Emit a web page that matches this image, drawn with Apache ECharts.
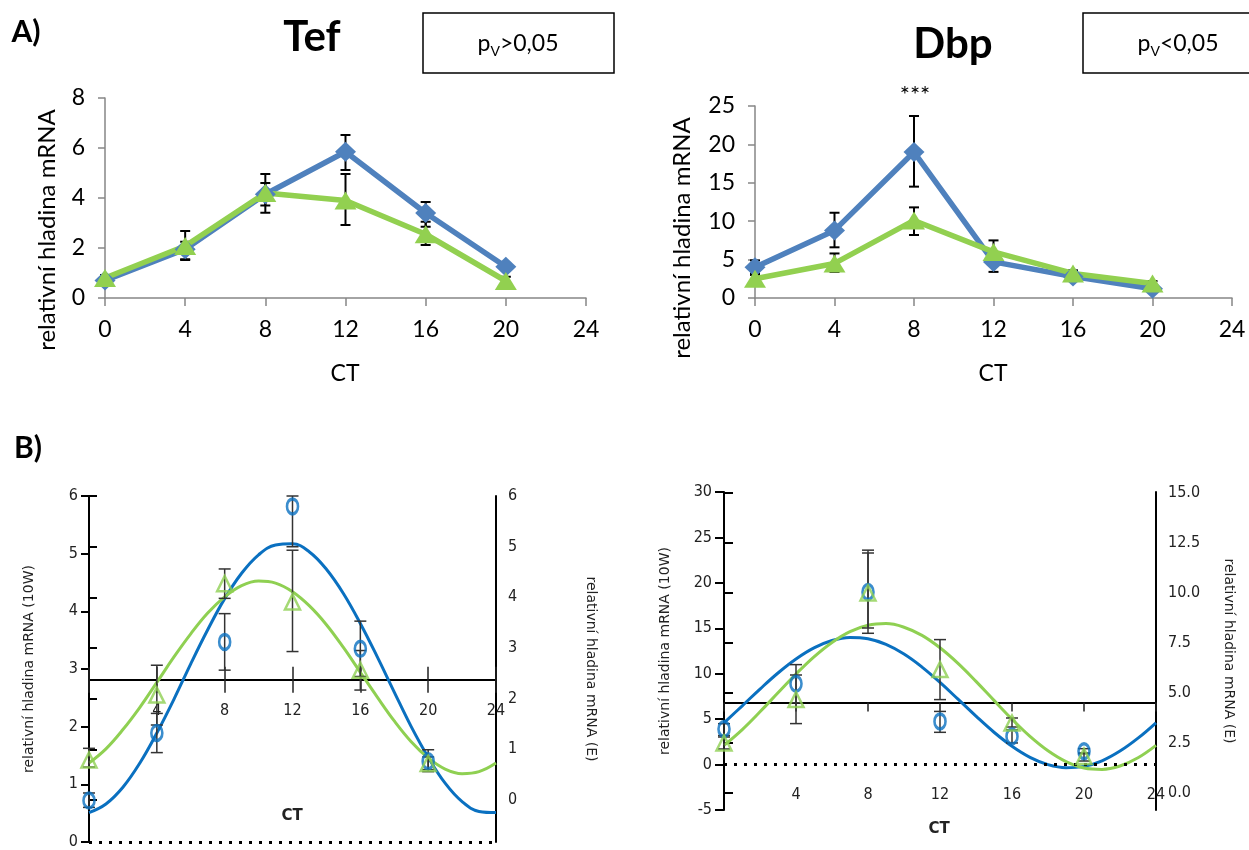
<!DOCTYPE html>
<html>
<head>
<meta charset="utf-8">
<script src="https://cdn.jsdelivr.net/npm/echarts@6/dist/echarts.min.js"></script>
<style>
html,body{margin:0;padding:0;background:#fff;}
#main{width:1249px;height:850px;}
</style>
</head>
<body>
<div id="main"></div>
<script>
// casy odberu (CT) a body prolozene krivky
var ctHours = [0, 4, 8, 12, 16, 20];
var fitHours = [0, 1, 2, 3, 4, 5, 6, 7, 8, 9, 10, 11, 12, 13, 14, 15, 16, 17, 18, 19, 20, 21, 22, 23, 24];

// A) Tef
var tefBlue = [0.7, 1.95, 4.15, 5.85, 3.4, 1.25];
var tefBlueLo = [0.62, 1.55, 3.7, 5.12, 2.85, 1.1];
var tefBlueHi = [0.8, 2.25, 4.6, 6.52, 3.84, 1.35];
var tefGreen = [0.8, 2.08, 4.2, 3.9, 2.55, 0.68];
var tefGreenLo = [0.7, 1.52, 3.41, 2.92, 2.12, 0.6];
var tefGreenHi = [0.92, 2.68, 4.96, 4.96, 3.05, 0.85];

// A) Dbp
var dbpBlue = [4.0, 8.8, 19.0, 4.7, 2.8, 1.2];
var dbpBlueLo = [3.2, 6.6, 14.5, 3.4, 2.4, 1.0];
var dbpBlueHi = [4.9, 11.1, 23.7, 5.9, 3.2, 1.4];
var dbpGreen = [2.5, 4.5, 10.1, 6.0, 3.2, 1.9];
var dbpGreenLo = [2.0, 3.4, 8.2, 4.5, 2.9, 1.6];
var dbpGreenHi = [3.0, 5.8, 11.8, 7.5, 3.6, 2.2];

// B) Tef - 10W (leva osa), E (prava osa)
var b1Blue = [0.72, 1.89, 3.47, 5.82, 3.35, 1.40];
var b1BlueLo = [0.6, 1.55, 2.98, 5.12, 2.87, 1.22];
var b1BlueHi = [0.85, 2.23, 3.96, 6.0, 3.83, 1.60];
var b1Green = [0.79, 2.07, 4.27, 3.91, 2.56, 0.72];
var b1GreenLo = [0.65, 1.48, 3.98, 2.93, 2.17, 0.6];
var b1GreenHi = [1.02, 2.66, 4.56, 4.93, 2.95, 0.85];
var b1BlueFit = [0.51, 0.66, 0.95, 1.37, 1.89, 2.47, 3.09, 3.68, 4.22, 4.66, 4.98, 5.15, 5.17,
	5.03, 4.73, 4.31, 3.79, 3.21, 2.60, 2.00, 1.47, 1.02, 0.70, 0.53, 0.51];
var b1GreenFit = [0.73, 1.01, 1.39, 1.83, 2.32, 2.82, 3.28, 3.69, 4.01, 4.23, 4.32, 4.28, 4.11,
	3.83, 3.46, 3.01, 2.52, 2.03, 1.56, 1.15, 0.83, 0.61, 0.52, 0.56, 0.73];
var b1Mesor = 2.84;

// B) Dbp
var b2Blue = [3.92, 8.9, 19.0, 4.75, 3.1, 1.46];
var b2BlueLo = [3.2, 6.8, 14.45, 3.55, 2.38, 1.2];
var b2BlueHi = [4.5, 11.0, 23.6, 5.85, 3.84, 1.75];
var b2Green = [2.5, 4.67, 10.0, 6.17, 3.5, 1.83];
var b2GreenLo = [2.2, 3.47, 8.25, 4.67, 3.3, 1.6];
var b2GreenHi = [2.8, 5.9, 12.0, 7.67, 3.75, 2.0];
var b2BlueFit = [4.60, 6.44, 8.31, 10.08, 11.62, 12.84, 13.65, 13.99, 13.84, 13.22, 12.16, 10.73, 9.04,
	7.20, 5.33, 3.56, 2.02, 0.80, -0.01, -0.35, -0.20, 0.42, 1.49, 2.91, 4.60];
var b2GreenFit = [2.38, 3.16, 4.06, 5.01, 5.95, 6.81, 7.53, 8.07, 8.39, 8.47, 8.29, 7.88, 7.26,
	6.48, 5.58, 4.63, 3.69, 2.83, 2.11, 1.57, 1.25, 1.18, 1.35, 1.76, 2.38];
var b2Mesor = 6.84;

var FA = 'Lato, "Open Sans", sans-serif';
var FN = '"Liberation Sans Narrow", "DejaVu Sans Condensed", "Liberation Sans", sans-serif';
var FL = '"DejaVu Sans", sans-serif';
var blueA = '#4f81bd', greenA = '#92d050', blueB = '#0a70c0', greenB = '#8fd052';
var grayA = '#868686';

var chart = echarts.init(document.getElementById('main'));

function pairs(xs, ys){
	return xs.map(function(x, i){ return [x, ys[i]]; });
}
function triples(xs, lo, hi){
	return xs.map(function(x, i){ return [x, lo[i], hi[i]]; });
}
//chybove useky
function errBar(cap, color, w){
	return function(params, api){
		var x = api.value(0);
		var a = api.coord([x, api.value(1)]);
		var b = api.coord([x, api.value(2)]);
		var st = {stroke: color, lineWidth: w, fill: null};
		return {type: 'group', children: [
			{type: 'line', shape: {x1: a[0], y1: a[1], x2: b[0], y2: b[1]}, style: st},
			{type: 'line', shape: {x1: a[0]-cap, y1: a[1], x2: a[0]+cap, y2: a[1]}, style: st},
			{type: 'line', shape: {x1: b[0]-cap, y1: b[1], x2: b[0]+cap, y2: b[1]}, style: st}
		]};
	};
}
function errSeries(xi, yi, lo, hi, cap, color, w, z){
	return {type: 'custom', xAxisIndex: xi, yAxisIndex: yi, silent: true, z: z,
		renderItem: errBar(cap, color, w), encode: {x: 0, y: [1, 2]},
		data: triples(ctHours, lo, hi)};
}

// rozmisteni
var A1 = {left: 105, top: 98, width: 481, height: 200};
var A2 = {left: 755, top: 106, width: 477, height: 192};
var B1 = {left: 89, top: 496, width: 407, height: 349};
var B1E = {left: 89, top: 496, width: 407, height: 304};
var B2 = {left: 724, top: 492, width: 432, height: 318};
var B2E = {left: 724, top: 493, width: 432, height: 300};
var b1Min = 0, b1Max = 6, b2Min = -5, b2Max = 30;
var B1M = {left: B1.left, top: B1.top, width: B1.width, height: B1.height*(b1Max-b1Mesor)/(b1Max-b1Min)};
var B2M = {left: B2.left, top: B2.top, width: B2.width, height: B2.height*(b2Max-b2Mesor)/(b2Max-b2Min)};

function aX(g){
	return {gridIndex: g, type: 'value', min: 0, max: 24, interval: 4,
		axisLine: {lineStyle: {color: grayA, width: 1.5}},
		axisTick: {length: 8, lineStyle: {color: grayA, width: 1.5}},
		axisLabel: {color: '#000', fontSize: 23, fontFamily: FA, margin: 20},
		splitLine: {show: false}};
}
function aY(g, max, step){
	return {gridIndex: g, type: 'value', min: 0, max: max, interval: step,
		axisLine: {show: true, lineStyle: {color: grayA, width: 1.5}},
		axisTick: {show: true, length: 7, lineStyle: {color: grayA, width: 1.5}},
		axisLabel: {color: '#000', fontSize: 23, fontFamily: FA, margin: 20},
		splitLine: {show: false}};
}
function hiddenX(g){
	return {gridIndex: g, type: 'value', min: 0, max: 24, show: false};
}
function noZero(v){ return v === 0 ? '' : String(v); }

function aLine(xi, yi, ys, sym, size, color){
	return {type: 'line', xAxisIndex: xi, yAxisIndex: yi, data: pairs(ctHours, ys), z: 3,
		symbol: sym, symbolSize: size, color: color, itemStyle: {color: color},
		lineStyle: {width: 5.5, color: color}};
}
function fitLine(xi, yi, ys, color){
	return {type: 'line', xAxisIndex: xi, yAxisIndex: yi, data: pairs(fitHours, ys), smooth: 0.4,
		showSymbol: false, lineStyle: {width: 3, color: color}, color: color, z: 3};
}
function hollow(xi, yi, ys, sym, size, color, bw){
	return {type: 'scatter', xAxisIndex: xi, yAxisIndex: yi, data: pairs(ctHours, ys), z: 7,
		symbol: sym, symbolSize: size,
		itemStyle: {color: 'rgba(255,255,255,0)', borderColor: color, borderWidth: bw}};
}
function txt(x, y, s, font, fill, rot){
	var o = {type: 'text', x: x, y: y, z: 10, style: {text: s, font: font, fill: fill || '#000',
		textAlign: 'center', textVerticalAlign: 'middle', align: 'center', verticalAlign: 'middle'}};
	if (rot) o.rotation = rot;
	return o;
}
function pText(x, y, rel){
	return {type: 'text', x: x, y: y, z: 10, style: {text: '{a|p}{b|V}{a|' + rel + '}', fill: '#000',
		textAlign: 'center', textVerticalAlign: 'middle', align: 'center', verticalAlign: 'middle',
		rich: {a: {fontSize: 23, fontFamily: FA, verticalAlign: 'middle'},
			b: {fontSize: 14, fontFamily: FA, padding: [14, 0, 0, 0]}}}};
}

var blackLine = {color: '#000', width: 2};
var nameStyle = {fontFamily: FL, fontSize: 14, color: '#222'};

var option = {
	animation: false,
	backgroundColor: '#fff',
	grid: [
		Object.assign({}, A1), Object.assign({}, A2),
		Object.assign({}, B1), Object.assign({}, B1E), Object.assign({}, B1M),
		Object.assign({}, B2), Object.assign({}, B2E), Object.assign({}, B2M)
	],
	xAxis: [
		aX(0), aX(1),
		hiddenX(2), hiddenX(3),
		{gridIndex: 4, type: 'value', min: 0, max: 24, interval: 4, position: 'bottom',
			axisLine: {onZero: false, lineStyle: blackLine},
			axisTick: {length: 13, lineStyle: {color: '#222', width: 1.5}},
			axisLabel: {color: '#222', fontSize: 16, fontFamily: FN, margin: 23, formatter: noZero},
			splitLine: {show: false}},
		{gridIndex: 4, type: 'value', min: 0, max: 24, interval: 4, position: 'bottom',
			axisLine: {show: false, onZero: false},
			axisTick: {inside: true, length: 13, lineStyle: {color: '#222', width: 1.5}},
			axisLabel: {show: false}, splitLine: {show: false}},
		hiddenX(5), hiddenX(6),
		{gridIndex: 7, type: 'value', min: 0, max: 24, interval: 4, position: 'bottom',
			axisLine: {onZero: false, lineStyle: blackLine},
			axisTick: {length: 9, lineStyle: {color: '#222', width: 1.5}},
			axisLabel: {color: '#222', fontSize: 16, fontFamily: FN, margin: 84, formatter: noZero},
			splitLine: {show: false}}
	],
	yAxis: [
		aY(0, 8, 2), aY(1, 25, 5),
		{gridIndex: 2, type: 'value', min: b1Min, max: b1Max, interval: 1, position: 'left',
			axisLine: {show: true, lineStyle: blackLine},
			axisTick: {show: true, length: 8, lineStyle: blackLine},
			axisLabel: {color: '#222', fontSize: 16, fontFamily: FN, margin: 11},
			splitLine: {show: false},
			name: 'relativní hladina mRNA (10W)', nameLocation: 'middle', nameGap: 53,
			nameTextStyle: nameStyle},
		{gridIndex: 2, type: 'value', min: b1Min, max: b1Max, position: 'right',
			axisLine: {show: true, lineStyle: blackLine},
			axisTick: {show: false}, axisLabel: {show: false}, splitLine: {show: false},
			name: 'relativní hladina mRNA (E)', nameLocation: 'middle', nameGap: 88, nameRotate: -90,
			nameTextStyle: nameStyle},
		{gridIndex: 3, type: 'value', min: 0, max: 6, interval: 1, position: 'right',
			axisLine: {show: true, lineStyle: blackLine},
			axisTick: {show: true, length: 8, lineStyle: blackLine},
			axisLabel: {color: '#222', fontSize: 16, fontFamily: FN, margin: 12},
			splitLine: {show: false}},
		{gridIndex: 4, type: 'value', min: 0, max: 1, show: false},
		{gridIndex: 5, type: 'value', min: b2Min, max: b2Max, interval: 5, position: 'left',
			axisLine: {show: true, lineStyle: blackLine},
			axisTick: {show: true, length: 9, lineStyle: blackLine},
			axisLabel: {color: '#222', fontSize: 16, fontFamily: FN, margin: 12},
			splitLine: {show: false},
			name: 'relativní hladina mRNA (10W)', nameLocation: 'middle', nameGap: 52,
			nameTextStyle: nameStyle},
		{gridIndex: 5, type: 'value', min: b2Min, max: b2Max, position: 'right',
			axisLine: {show: true, lineStyle: blackLine},
			axisTick: {show: false}, axisLabel: {show: false}, splitLine: {show: false},
			name: 'relativní hladina mRNA (E)', nameLocation: 'middle', nameGap: 66, nameRotate: -90,
			nameTextStyle: nameStyle},
		{gridIndex: 6, type: 'value', min: 0, max: 15, interval: 2.5, position: 'right',
			axisLine: {show: true, lineStyle: blackLine},
			axisTick: {show: true, length: 9, lineStyle: blackLine},
			axisLabel: {color: '#222', fontSize: 16, fontFamily: FN, margin: 12,
				formatter: function(v){ return v.toFixed(1); }},
			splitLine: {show: false}},
		{gridIndex: 7, type: 'value', min: 0, max: 1, show: false}
	],
	series: [
		// A) Tef
		errSeries(0, 0, tefBlueLo, tefBlueHi, 5, '#000', 2, 2),
		errSeries(0, 0, tefGreenLo, tefGreenHi, 5, '#000', 2, 2),
		aLine(0, 0, tefBlue, 'diamond', [21, 20], blueA),
		aLine(0, 0, tefGreen, 'triangle', [22, 18], greenA),
		// A) Dbp
		errSeries(1, 1, dbpBlueLo, dbpBlueHi, 5, '#000', 2, 2),
		errSeries(1, 1, dbpGreenLo, dbpGreenHi, 5, '#000', 2, 2),
		aLine(1, 1, dbpBlue, 'diamond', [21, 20], blueA),
		aLine(1, 1, dbpGreen, 'triangle', [22, 18], greenA),
		// B) Tef
		Object.assign(fitLine(2, 2, b1BlueFit, blueB), {
			markLine: {silent: true, symbol: 'none', label: {show: false},
				lineStyle: {type: [3, 7], width: 3, color: '#000'}, data: [{yAxis: 0}]}}),
		fitLine(3, 4, b1GreenFit, greenB),
		errSeries(2, 2, b1BlueLo, b1BlueHi, 6, '#333', 1.5, 5),
		errSeries(3, 4, b1GreenLo, b1GreenHi, 6, '#333', 1.5, 5),
		hollow(2, 2, b1Blue, 'circle', [11, 15], blueB, 3),
		hollow(3, 4, b1Green, 'triangle', [15, 15], greenB, 2.5),
		// B) Dbp
		Object.assign(fitLine(6, 6, b2BlueFit, blueB), {
			markLine: {silent: true, symbol: 'none', label: {show: false},
				lineStyle: {type: [3, 7], width: 3, color: '#000'}, data: [{yAxis: 0}]}}),
		fitLine(7, 8, b2GreenFit, greenB),
		errSeries(6, 6, b2BlueLo, b2BlueHi, 6, '#333', 1.5, 5),
		errSeries(7, 8, b2GreenLo, b2GreenHi, 6, '#333', 1.5, 5),
		hollow(6, 6, b2Blue, 'circle', [11, 15], blueB, 3),
		hollow(7, 8, b2Green, 'triangle', [15, 15], greenB, 2.5)
	],
	graphic: [
		txt(26, 32, 'A)', 'bold 30px ' + FA),
		txt(28, 448, 'B)', 'bold 30px ' + FA),
		txt(312, 37, 'Tef', 'bold 42px ' + FA),
		txt(953, 44, 'Dbp', 'bold 42px ' + FA),
		{type: 'rect', shape: {x: 423, y: 13, width: 191, height: 60}, style: {fill: '#fff', stroke: '#000', lineWidth: 1.5}},
		{type: 'rect', shape: {x: 1083, y: 13, width: 200, height: 60}, style: {fill: '#fff', stroke: '#000', lineWidth: 1.5}},
		pText(518, 44, '>0,05'),
		pText(1178, 44, '<0,05'),
		txt(915, 95, '***', '24px ' + FA),
		txt(345, 374, 'CT', '23px ' + FA),
		txt(993, 374, 'CT', '23px ' + FA),
		txt(292, 816, 'CT', 'bold 15px ' + FL, '#222'),
		txt(939, 829, 'CT', 'bold 15px ' + FL, '#222'),
		txt(47, 230, 'relativní hladina mRNA', '24px ' + FA, '#000', Math.PI/2),
		txt(682, 238, 'relativní hladina mRNA', '24px ' + FA, '#000', Math.PI/2)
	]
};

chart.setOption(option);
</script>
</body>
</html>
